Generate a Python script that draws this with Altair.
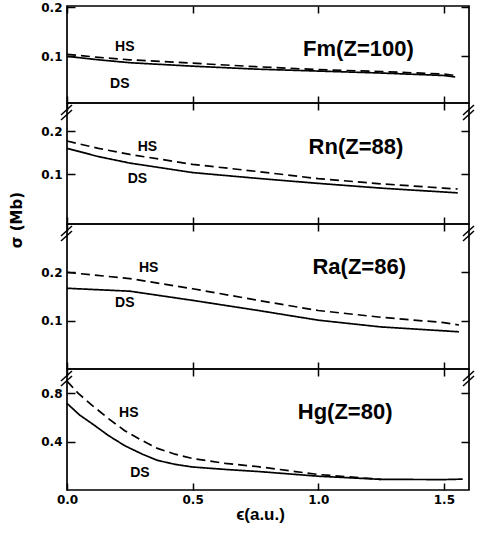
import altair as alt
import pandas as pd

# ---------------- data ----------------
x_domain = [0, 1.6]
x_ticks = [0.0, 0.5, 1.0, 1.5]

# Fm (Z=100)
fm_x = [0, 0.125, 0.25, 0.5, 0.75, 1.0, 1.25, 1.5, 1.545]
fm_ds = [0.100, 0.093, 0.087, 0.080, 0.074, 0.070, 0.066, 0.061, 0.058]
fm_hs = [0.104, 0.098, 0.093, 0.086, 0.079, 0.073, 0.069, 0.064, 0.061]

# Rn (Z=88)
rn_x = [0, 0.125, 0.25, 0.5, 0.75, 1.0, 1.25, 1.5, 1.555]
rn_ds = [0.160, 0.141, 0.126, 0.104, 0.091, 0.079, 0.068, 0.059, 0.057]
rn_hs = [0.177, 0.160, 0.146, 0.123, 0.107, 0.090, 0.078, 0.068, 0.066]

# Ra (Z=86)
ra_x = [0, 0.25, 0.5, 0.75, 1.0, 1.25, 1.5, 1.56]
ra_ds = [0.167, 0.161, 0.142, 0.122, 0.101, 0.087, 0.079, 0.077]
ra_hs = [0.200, 0.187, 0.166, 0.143, 0.121, 0.107, 0.096, 0.091]

# Hg (Z=80)
hg_x_ds = [0, 0.05, 0.1, 0.165, 0.23, 0.3, 0.36, 0.43, 0.5, 0.63, 0.76, 1.0, 1.25, 1.5, 1.575]
hg_ds = [0.716, 0.62, 0.548, 0.45, 0.366, 0.296, 0.245, 0.212, 0.19, 0.17, 0.153, 0.114, 0.088, 0.086, 0.09]
hg_x_hs = [0, 0.044, 0.1, 0.165, 0.23, 0.3, 0.36, 0.43, 0.5, 0.63, 0.76, 1.0, 1.25]
hg_hs = [0.90, 0.80, 0.70, 0.59, 0.49, 0.408, 0.344, 0.296, 0.26, 0.22, 0.193, 0.128, 0.088]

panel_names = ["Fm(Z=100)", "Rn(Z=88)", "Ra(Z=86)", "Hg(Z=80)"]
name_x = [1.16, 1.15, 1.163, 1.107]
name_y = [0.115, 0.164, 0.211, 0.646]

hs_lab_x = [0.23, 0.32, 0.325, 0.246]
hs_lab_y = [0.119, 0.164, 0.210, 0.638]
ds_lab_x = [0.21, 0.28, 0.23, 0.29]
ds_lab_y = [0.044, 0.088, 0.136, 0.142]

y_domains = [[0.005, 0.2025], [-0.015, 0.265], [0.0, 0.3], [0.0, 1.0]]
y_ticks = [[0.1, 0.2], [0.1, 0.2], [0.1, 0.2], [0.4, 0.8]]
heights = [97, 121, 145, 121]

y_title = "σ (Mb)"
x_title = "ϵ(a.u.)"

WIDTH = 402
BLACK = "#000000"
TICK_FONT = "DejaVu Sans"
TEXT_FONT = "Liberation Sans"


def break_marks():
    """Two short parallel slashes on the left and right frame edges."""
    one = pd.DataFrame({"k": [0]})
    segs = []
    for x0 in (0, WIDTH):
        for dy in (0, 5):
            segs.append(
                alt.Chart(one).mark_rule(color=BLACK, strokeWidth=1.5).encode(
                    x=alt.value(x0 - 6), x2=alt.value(x0 + 5),
                    y=alt.value(12 + dy), y2=alt.value(2 + dy),
                )
            )
    return segs


def tick_axis(orient, values, off, size):
    return alt.Axis(orient=orient, values=values, labels=False, offset=off,
                    tickSize=size, domain=False, grid=False, title=None,
                    minExtent=0, maxExtent=0)


def panel(i, xd, ds, xh, hs, bottom=False, brk=True, ytitle=False):
    df = pd.DataFrame({
        "x": list(xd) + list(xh),
        "y": list(ds) + list(hs),
        "s": ["DS"] * len(ds) + ["HS"] * len(hs),
    })
    xs = alt.Scale(domain=x_domain, nice=False, zero=False)
    ys = alt.Scale(domain=y_domains[i], nice=False, zero=False)

    # label-only axes (no ticks) for the line layer
    xb_kwargs = dict(orient="bottom", values=x_ticks, format=".1f", ticks=False,
                     domain=False, grid=False, labels=bottom, labelPadding=4,
                     labelFlush=False, title=None, minExtent=0)
    if bottom:
        xb_kwargs.update(title=x_title, titleFont=TEXT_FONT, titleFontSize=17,
                         titleFontWeight="bold", titleColor=BLACK,
                         titleX=193, titleY=24, titleAlign="center",
                         titleBaseline="middle")
    lines = alt.Chart(df).mark_line(color=BLACK, strokeWidth=1.7).encode(
        x=alt.X("x:Q", scale=xs, axis=alt.Axis(**xb_kwargs)),
        y=alt.Y("y:Q", scale=ys, axis=alt.Axis(
            orient="left", values=y_ticks[i], format=".1f", ticks=False,
            domain=False, grid=False, labelPadding=5, labelFlush=False,
            title=None, minExtent=0)),
        strokeDash=alt.StrokeDash("s:N", scale=alt.Scale(
            domain=["DS", "HS"], range=[[1, 0], [9, 5]]), legend=None),
        detail="s:N",
    )

    lab = pd.DataFrame({
        "x": [hs_lab_x[i], ds_lab_x[i]],
        "y": [hs_lab_y[i], ds_lab_y[i]],
        "t": ["HS", "DS"],
    })
    labels = alt.Chart(lab).mark_text(
        font=TEXT_FONT, fontSize=14, fontWeight="bold", color=BLACK,
        align="center", baseline="middle"
    ).encode(
        x=alt.X("x:Q", scale=xs, axis=tick_axis("top", x_ticks, -7, 7)),
        y=alt.Y("y:Q", scale=ys, axis=tick_axis("right", y_ticks[i], -8, 8)),
        text="t:N",
    )

    nm = pd.DataFrame({"x": [name_x[i]], "y": [name_y[i]], "t": [panel_names[i]]})
    name = alt.Chart(nm).mark_text(
        font=TEXT_FONT, fontSize=22, fontWeight="bold", color=BLACK,
        align="center", baseline="middle"
    ).encode(
        x=alt.X("x:Q", scale=xs, axis=tick_axis("bottom", x_ticks, -7, 7)),
        y=alt.Y("y:Q", scale=ys, axis=tick_axis("left", y_ticks[i], -8, 8)),
        text="t:N",
    )

    layers = [lines, labels, name]
    if brk:
        layers += break_marks()
    if ytitle:
        yt = alt.Chart(pd.DataFrame({"t": [y_title]})).mark_text(
            font="DejaVu Sans", fontSize=15, fontWeight="bold", color=BLACK,
            angle=270, align="center", baseline="middle"
        ).encode(x=alt.value(-50), y=alt.value(-4), text="t:N")
        layers.append(yt)

    return alt.layer(*layers).resolve_axis(
        x="independent", y="independent"
    ).properties(width=WIDTH, height=heights[i])


p1 = panel(0, fm_x, fm_ds, fm_x, fm_hs, brk=False)
p2 = panel(1, rn_x, rn_ds, rn_x, rn_hs)
p3 = panel(2, ra_x, ra_ds, ra_x, ra_hs, ytitle=True)
p4 = panel(3, hg_x_ds, hg_ds, hg_x_hs, hg_hs, bottom=True)

chart = alt.vconcat(p1, p2, p3, p4, spacing=0, bounds="flush").properties(
    padding={"left": 9, "top": 0, "right": 0, "bottom": 0},
    background="white",
).configure_view(
    stroke=BLACK, strokeWidth=1.7
).configure_axis(
    tickColor=BLACK, tickWidth=1.5, labelColor=BLACK, labelFont=TICK_FONT,
    labelFontSize=12, labelFontWeight="bold"
)

chart.save("out.html", embed_options={"renderer": "svg", "actions": False})
